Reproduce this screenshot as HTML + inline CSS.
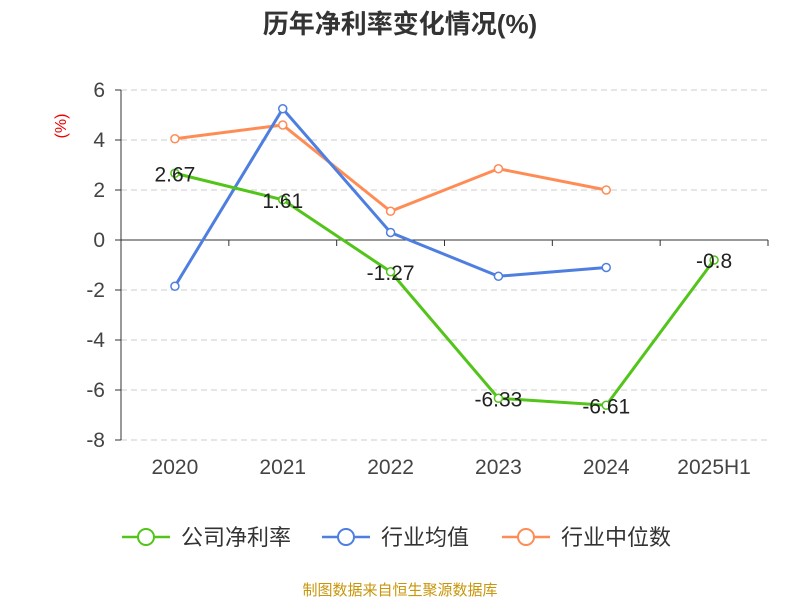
<!DOCTYPE html>
<html><head><meta charset="utf-8"><style>
body{margin:0;background:#fff;font-family:"Liberation Sans","Noto Sans CJK SC",sans-serif;}
svg text{font-family:"Liberation Sans","Noto Sans CJK SC",sans-serif;}
</style></head><body>
<svg id="chart" width="800" height="600">
<text x="400" y="33" text-anchor="middle" font-size="26" font-weight="bold" fill="#333">历年净利率变化情况(%)</text>
<text x="66" y="126" text-anchor="middle" font-size="16" fill="#e00" transform="rotate(-90 66 126)">(%)</text>
<g id="grid"></g><g id="axes"></g><g id="series"></g>
<g>
<g><line x1="122" y1="537" x2="170" y2="537" stroke="#52c41a" stroke-width="2.5"/><circle cx="146" cy="537" r="8" fill="#fff" stroke="#52c41a" stroke-width="2"/><text x="181" y="545" font-size="22" fill="#333">公司净利率</text></g>
<g><line x1="322" y1="537" x2="370" y2="537" stroke="#4e7fe0" stroke-width="2.5"/><circle cx="346" cy="537" r="8" fill="#fff" stroke="#4e7fe0" stroke-width="2"/><text x="381" y="545" font-size="22" fill="#333">行业均值</text></g>
<g><line x1="502" y1="537" x2="550" y2="537" stroke="#ff8c55" stroke-width="2.5"/><circle cx="526" cy="537" r="8" fill="#fff" stroke="#ff8c55" stroke-width="2"/><text x="561" y="545" font-size="22" fill="#333">行业中位数</text></g>
</g>
<text x="400" y="595" text-anchor="middle" font-size="15" fill="#c8960a">制图数据来自恒生聚源数据库</text>
</svg>
<script>
const categories=["2020","2021","2022","2023","2024","2025H1"];
const companyValues=[2.67,1.61,-1.27,-6.33,-6.61,-0.8];
const industryAvg=[-1.85,5.25,0.3,-1.45,-1.1];
const industryMedian=[4.05,4.6,1.15,2.85,2.0];
const yTicks=[6,4,2,0,-2,-4,-6,-8];
const NS="http://www.w3.org/2000/svg";
const x0=121,x1=768,bw=(x1-x0)/categories.length;
const xs=i=>x0+bw*(i+0.5);
const ys=v=>240-v*25;
function mk(tag,attrs,parent){const e=document.createElementNS(NS,tag);for(const k in attrs)e.setAttribute(k,attrs[k]);parent.appendChild(e);return e;}
const grid=document.getElementById('grid'),axes=document.getElementById('axes'),ser=document.getElementById('series');
yTicks.forEach(t=>{
 if(t!==0){const l=mk('line',{x1:x0,x2:x1,y1:ys(t),y2:ys(t),stroke:'#ccc','stroke-dasharray':'6,4'},grid);
 
 }
 mk('line',{x1:x0-6,x2:x0,y1:ys(t),y2:ys(t),stroke:'#333'},axes);
 const tx=mk('text',{x:x0-16,y:ys(t)+7,'text-anchor':'end','font-size':21,fill:'#444'},axes);tx.textContent=t;
 
 
});
mk('line',{x1:x0,x2:x0,y1:ys(6),y2:ys(-8),stroke:'#333'},axes);
const xa=mk('line',{x1:x0,x2:x1,y1:ys(0),y2:ys(0),stroke:'#333'},axes);


for(let i=0;i<=categories.length;i++)mk('line',{x1:x0+bw*i,x2:x0+bw*i,y1:ys(0),y2:ys(0)+6,stroke:'#333'},axes);
categories.forEach((c,i)=>{const t=mk('text',{x:xs(i),y:474,'text-anchor':'middle','font-size':21,fill:'#444'},axes);t.textContent=c;
 
 });
function series(vals,color,name,labels){
 const p=mk('polyline',{points:vals.map((v,i)=>xs(i)+','+ys(v)).join(' '),fill:'none',stroke:color,'stroke-width':3},ser);
 
 
 vals.forEach((v,i)=>{const c=mk('circle',{cx:xs(i),cy:ys(v),r:4,fill:'#fff',stroke:color,'stroke-width':1.5},ser);
  
  
  if(labels){const t=mk('text',{x:xs(i),y:ys(v)+8,'text-anchor':'middle','font-size':21,fill:'#222'},ser);t.textContent=v;
   
   }
 });
}
series(industryMedian,'#ff8c55','industry-median',false);
series(industryAvg,'#4e7fe0','industry-avg',false);
series(companyValues,'#52c41a','company',true);
</script>
</body></html>
